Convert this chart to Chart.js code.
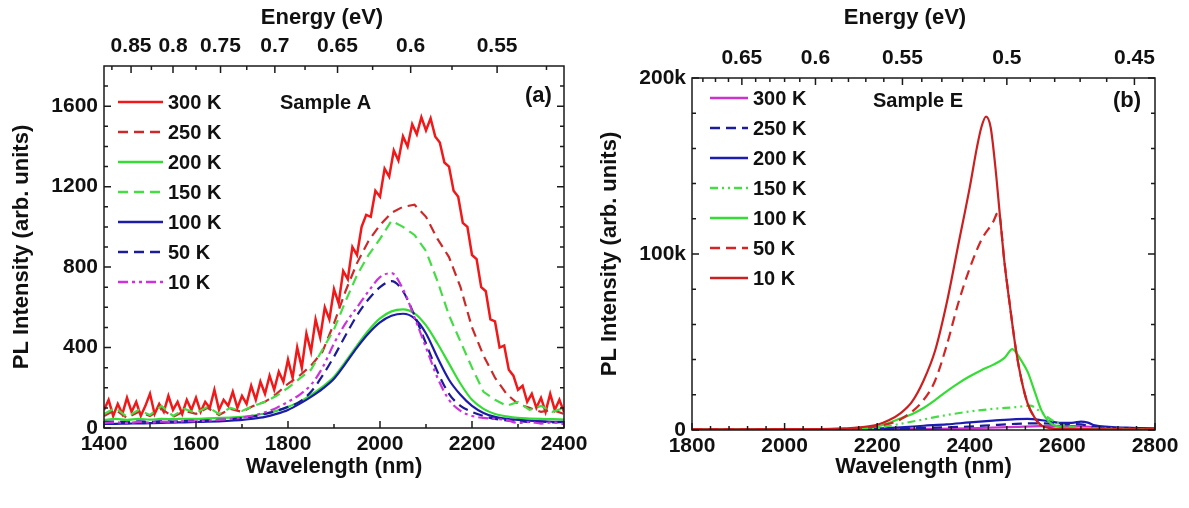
<!DOCTYPE html>
<html>
<head>
<meta charset="utf-8">
<script src="https://cdn.jsdelivr.net/npm/chart.js@4.4.1/dist/chart.umd.min.js"></script>
<style>
  html, body { margin: 0; padding: 0; background: #fff; }
  #wrap { position: relative; width: 1189px; height: 508px; }
  canvas { position: absolute; top: 0; }
  #chartA { left: 0; }
  #chartB { left: 595px; }
</style>
</head>
<body>
<div id="wrap">
  <canvas id="chartA" width="595" height="508"></canvas>
  <canvas id="chartB" width="594" height="508"></canvas>
</div>
<script>
const FONT = 'Arial, "Liberation Sans", sans-serif';

// ---------- panel (a): Sample A ----------
const labelsA = ['300 K', '250 K', '200 K', '150 K', '100 K', '50 K', '10 K'];
// 300 K sampled every 10 nm, the rest every 25 nm
const wlA300 = Array.from({ length: 101 }, (_, i) => 1400 + i * 10);
const wlA = Array.from({ length: 41 }, (_, i) => 1400 + i * 25);

const pl300A = [
  90, 140, 60, 120, 70, 150, 80, 130, 60, 110,
  170, 70, 120, 80, 160, 90, 130, 70, 140, 90,
  150, 80, 130, 100, 190, 90, 140, 110, 180, 100,
  160, 120, 210, 140, 230, 170, 260, 190, 280, 230,
  340, 250, 400, 300, 470, 380, 540, 450, 600, 540,
  690, 620, 780, 740, 900, 860, 1000, 1060, 1050, 1180,
  1150, 1290, 1250, 1380, 1330, 1450, 1400, 1510, 1460, 1545,
  1480, 1540, 1450, 1420, 1320, 1300, 1180, 1150, 1020, 1000,
  860, 840, 700, 680, 540, 530, 400, 410, 290, 260,
  190, 210, 130, 170, 100, 150, 80, 170, 90, 140, 80
];
const pl250A = [60, 90, 50, 80, 60, 95, 55, 85, 70, 100, 65, 95, 80, 110, 130, 170, 220, 260, 310, 380,
  520, 680, 820, 930, 1010, 1070, 1100, 1110, 1050, 940, 850, 700, 500, 360, 250, 170, 120, 100, 80, 90, 70];
const pl200A = [40, 45, 40, 45, 42, 45, 44, 46, 45, 48, 50, 52, 55, 62, 72, 85, 105, 130, 165, 205,
  255, 330, 410, 485, 545, 580, 590, 570, 510, 420, 320, 220, 140, 95, 70, 58, 50, 47, 45, 44, 42];
const pl150A = [70, 100, 55, 90, 65, 110, 60, 95, 75, 105, 70, 100, 85, 110, 130, 160, 200, 245, 290, 390,
  490, 630, 760, 860, 940, 1030, 1000, 960, 880, 730, 560, 430, 300, 180, 140, 110, 130, 90, 110, 80, 100];
const pl100A = [20, 21, 22, 23, 24, 25, 27, 28, 30, 31, 33, 36, 40, 46, 55, 70, 90, 120, 155, 195,
  245, 320, 400, 470, 525, 558, 568, 545, 470, 350, 240, 165, 110, 75, 55, 45, 40, 36, 33, 31, 30];
const pl50A = [30, 32, 28, 33, 30, 34, 32, 36, 35, 38, 40, 44, 50, 58, 70, 85, 105, 130, 180, 260,
  355, 460, 560, 640, 700, 730, 680, 560, 420, 280, 170, 110, 80, 60, 45, 38, 35, 30, 32, 28, 30];
const pl10A = [25, 28, 24, 30, 27, 32, 30, 34, 33, 37, 40, 45, 52, 62, 78, 100, 130, 165, 215, 300,
  420, 520, 600, 680, 750, 770, 690, 550, 400, 250, 140, 85, 60, 50, 45, 40, 25, 30, 22, 28, 20];

const wlTicksA = [1400, 1600, 1800, 2000, 2200, 2400];
const yTicksA = [0, 400, 800, 1200, 1600];
const eTicksA = [0.85, 0.8, 0.75, 0.7, 0.65, 0.6, 0.55];

// ---------- panel (b): Sample E ----------
const labelsB = ['300 K', '250 K', '200 K', '150 K', '100 K', '50 K', '10 K'];
const wlB300 = [1800, 2200, 2300, 2400, 2500, 2550, 2600, 2650, 2700, 2750, 2800];
const pl300B = [200, 300, 600, 1000, 1800, 2200, 2300, 2000, 1200, 1000, 900];
const wlB250 = [1800, 2200, 2300, 2400, 2450, 2500, 2550, 2600, 2640, 2660, 2700, 2750, 2800];
const pl250B = [100, 500, 1200, 2000, 2800, 3500, 3800, 3400, 3200, 2000, 1200, 800, 500];
const wlB200 = [1800, 2150, 2200, 2250, 2300, 2350, 2400, 2450, 2500, 2525, 2550, 2575, 2600, 2625, 2640, 2655, 2670, 2700, 2750, 2800];
const pl200B = [100, 300, 800, 1500, 2400, 3200, 4300, 5300, 6200, 6300, 5800, 4800, 4000, 4200, 4800, 4200, 2600, 1800, 1200, 800];
const wlB150 = [1800, 2100, 2200, 2250, 2300, 2350, 2400, 2450, 2500, 2530, 2550, 2575, 2600, 2625, 2700, 2800];
const pl150B = [150, 250, 1200, 3500, 6000, 8500, 10500, 12000, 13000, 13800, 11000, 6000, 3000, 1500, 800, 500];
const wlB100 = [1800, 2100, 2150, 2200, 2225, 2250, 2275, 2300, 2325, 2350, 2375, 2400, 2425, 2450, 2475, 2492, 2500, 2510, 2525, 2540, 2555, 2570, 2580, 2600, 2650, 2700, 2800];
const pl100B = [200, 300, 600, 2000, 4000, 6500, 9000, 12500, 17000, 22000, 26500, 30500, 34000, 37000, 41000, 46000, 44000, 40000, 33000, 22000, 11000, 5000, 3000, 1500, 800, 500, 400];
const wlB50 = [1800, 2000, 2100, 2150, 2200, 2250, 2300, 2325, 2350, 2375, 2400, 2425, 2450, 2462, 2475, 2487, 2500, 2512, 2525, 2540, 2555, 2575, 2600, 2800];
const pl50B = [300, 350, 500, 900, 2200, 6000, 17000, 28000, 48000, 72000, 92000, 108000, 118000, 124000, 95000, 70000, 45000, 28000, 15000, 7000, 2500, 1000, 500, 300];
const wlB10 = [1800, 1900, 2000, 2050, 2100, 2150, 2200, 2225, 2250, 2275, 2300, 2325, 2350, 2375, 2400, 2415, 2425, 2435, 2445, 2455, 2465, 2475, 2487, 2500, 2512, 2525, 2540, 2555, 2575, 2600, 2700, 2800];
const pl10B = [400, 400, 450, 500, 700, 1200, 3000, 5500, 9500, 16000, 28000, 45000, 72000, 105000, 138000, 160000, 172000, 178000, 172000, 150000, 122000, 95000, 70000, 45000, 28000, 15000, 7000, 2500, 1000, 600, 400, 300];

const wlTicksB = [1800, 2000, 2200, 2400, 2600, 2800];
const yTicksB = [0, 100000, 200000];
const yLabelsB = ['0', '100k', '200k'];
const eTicksB = [0.65, 0.6, 0.55, 0.5, 0.45];

const toPts = (xs, ys) => xs.map((x, i) => ({ x: x, y: ys[i] }));
const range = (a, b, step) => {
  const out = [];
  for (let v = a; v <= b + 1e-9; v += step) out.push(+v.toFixed(4));
  return out;
};

// frame, inward ticks, legend and texts
const decor = {
  id: 'decor',
  afterDraw(chart, args, o) {
    const { ctx, chartArea: a, scales } = chart;
    ctx.save();
    ctx.strokeStyle = '#1a1a1a';
    ctx.lineWidth = 1.5;
    ctx.setLineDash([]);
    ctx.strokeRect(a.left, a.top, a.width, a.height);

    const xTick = (vals, len, atTop) => vals.forEach(v => {
      const px = scales.x.getPixelForValue(v);
      if (px < a.left - 0.5 || px > a.right + 0.5) return;
      ctx.beginPath();
      if (atTop) { ctx.moveTo(px, a.top); ctx.lineTo(px, a.top + len); }
      else { ctx.moveTo(px, a.bottom); ctx.lineTo(px, a.bottom - len); }
      ctx.stroke();
    });
    const yTick = (vals, len) => vals.forEach(v => {
      const py = scales.y.getPixelForValue(v);
      ctx.beginPath();
      ctx.moveTo(a.left, py); ctx.lineTo(a.left + len, py);
      ctx.moveTo(a.right, py); ctx.lineTo(a.right - len, py);
      ctx.stroke();
    });
    xTick(o.xMajor, 7, false);
    xTick(o.xMinor, 4, false);
    xTick(o.eMajor.map(e => 1240 / e), 7, true);
    xTick(o.eMinor.map(e => 1240 / e), 4, true);
    yTick(o.yMajor, 7);
    yTick(o.yMinor, 4);

    // legend
    const lg = o.legend;
    ctx.font = 'bold 20px ' + FONT;
    ctx.textBaseline = 'middle';
    ctx.textAlign = 'left';
    chart.data.datasets.forEach((ds, i) => {
      const y = lg.y + i * lg.dy;
      ctx.strokeStyle = ds.borderColor;
      ctx.lineWidth = 2.5;
      ctx.setLineDash(ds.borderDash || []);
      ctx.beginPath();
      ctx.moveTo(lg.x, y);
      ctx.lineTo(lg.x + lg.len, y);
      ctx.stroke();
      ctx.setLineDash([]);
      ctx.fillStyle = '#111';
      ctx.fillText(ds.label, lg.x + lg.len + 5, y + 1);
    });

    // notes
    ctx.fillStyle = '#111';
    o.notes.forEach(n => {
      ctx.font = 'bold ' + n.size + 'px ' + FONT;
      ctx.textAlign = 'left';
      ctx.fillText(n.text, n.x, n.y);
    });

    // axis titles
    ctx.font = 'bold 22px ' + FONT;
    ctx.textAlign = 'center';
    ctx.fillText('Wavelength (nm)', (a.left + a.right) / 2, o.bottomTitleY);
    ctx.fillText('Energy (eV)', o.topTitleX, 18);
    ctx.save();
    ctx.translate(o.leftTitleX, (a.top + a.bottom) / 2);
    ctx.rotate(-Math.PI / 2);
    ctx.fillText('PL Intensity (arb. units)', 0, 0);
    ctx.restore();
    ctx.restore();
  }
};

function lineSet(label, pts, color, dash, width, smooth, order) {
  return {
    label: label,
    data: pts,
    borderColor: color,
    borderDash: dash,
    borderWidth: width,
    pointRadius: 0,
    fill: false,
    tension: 0,
    cubicInterpolationMode: smooth ? 'monotone' : 'default',
    order: order
  };
}

function makeOptions(cfg) {
  const tickFont = { family: FONT, size: 21, weight: 'bold' };
  return {
    responsive: false,
    animation: false,
    events: [],
    layout: { padding: { left: 0, right: cfg.padRight, top: 0, bottom: 0 } },
    plugins: { legend: { display: false }, tooltip: { enabled: false }, decor: cfg.decor },
    scales: {
      x: {
        type: 'linear', position: 'bottom', min: cfg.xMin, max: cfg.xMax,
        afterBuildTicks: s => { s.ticks = cfg.xTicks.map(v => ({ value: v })); },
        afterFit: s => { s.height = cfg.bottomH; },
        grid: { display: false, drawTicks: false },
        border: { display: false },
        ticks: { color: '#111', font: tickFont, padding: 4, maxRotation: 0, autoSkip: false,
          callback: v => String(v) }
      },
      xTop: {
        type: 'linear', position: 'top', min: cfg.xMin, max: cfg.xMax,
        afterBuildTicks: s => { s.ticks = cfg.eTicks.map(e => ({ value: 1240 / e })); },
        afterFit: s => { s.height = cfg.topH; },
        grid: { display: false, drawTicks: false },
        border: { display: false },
        ticks: { color: '#111', font: tickFont, padding: 7, maxRotation: 0, autoSkip: false,
          callback: (v, i) => String(cfg.eTicks[i]) }
      },
      y: {
        type: 'linear', position: 'left', min: 0, max: cfg.yMax,
        afterBuildTicks: s => { s.ticks = cfg.yTicks.map(v => ({ value: v })); },
        afterFit: s => { s.width = cfg.leftW; },
        grid: { display: false, drawTicks: false },
        border: { display: false },
        ticks: { color: '#111', font: tickFont, padding: 6, autoSkip: false,
          callback: (v, i) => cfg.yLabels[i] }
      }
    }
  };
}

// ----- chart (a)
const colA = ['#f01818', '#cc2a2a', '#33dd33', '#44dd44', '#1c1ca8', '#1c1c9a', '#cc33dd'];
const dashA = [[], [10, 6], [], [10, 6], [], [10, 6], [10, 4, 3, 4, 3, 4]];
const seriesA = [pl300A, pl250A, pl200A, pl150A, pl100A, pl50A, pl10A];
const datasetsA = seriesA.map((ys, i) => lineSet(
  labelsA[i], toPts(i === 0 ? wlA300 : wlA, ys), colA[i], dashA[i],
  i === 0 ? 2.5 : 2.2, i === 2 || i === 4 || i === 5 || i === 6, 7 - i));

new Chart(document.getElementById('chartA'), {
  type: 'line',
  data: { datasets: datasetsA },
  options: makeOptions({
    xMin: 1400, xMax: 2400, yMax: 1800, padRight: 31,
    leftW: 104, bottomH: 80, topH: 66,
    xTicks: wlTicksA, eTicks: eTicksA, yTicks: yTicksA, yLabels: yTicksA.map(String),
    decor: {
      xMajor: wlTicksA, xMinor: range(1500, 2300, 200),
      eMajor: eTicksA, eMinor: range(0.525, 0.875, 0.05),
      yMajor: yTicksA, yMinor: range(100, 1700, 100).filter(v => v % 400 !== 0),
      legend: { x: 118, y: 102, dy: 30, len: 45 },
      notes: [
        { text: 'Sample A', x: 280, y: 103, size: 20 },
        { text: '(a)', x: 525, y: 96, size: 22 }
      ],
      bottomTitleY: 467, topTitleX: 322, leftTitleX: 22
    }
  }),
  plugins: [decor]
});

// ----- chart (b)
const colB = ['#cc33cc', '#1c1c9a', '#1c1cb0', '#44dd44', '#33dd33', '#d42424', '#cc2020'];
const dashB = [[], [10, 6], [], [8, 4, 2, 4, 2, 4], [], [10, 6], []];
const wlB = [wlB300, wlB250, wlB200, wlB150, wlB100, wlB50, wlB10];
const seriesB = [pl300B, pl250B, pl200B, pl150B, pl100B, pl50B, pl10B];
const datasetsB = seriesB.map((ys, i) => lineSet(
  labelsB[i], toPts(wlB[i], ys), colB[i], dashB[i], 2.2, true, 7 - i));

new Chart(document.getElementById('chartB'), {
  type: 'line',
  data: { datasets: datasetsB },
  options: makeOptions({
    xMin: 1800, xMax: 2800, yMax: 200000, padRight: 34,
    leftW: 97, bottomH: 78, topH: 78,
    xTicks: wlTicksB, eTicks: eTicksB, yTicks: yTicksB, yLabels: yLabelsB,
    decor: {
      xMajor: wlTicksB, xMinor: range(1840, 2760, 40).filter(v => v % 200 !== 0),
      eMajor: eTicksB, eMinor: range(0.44, 0.68, 0.01).filter(e => Math.round(e * 100) % 5 !== 0),
      yMajor: yTicksB, yMinor: range(20000, 180000, 20000).filter(v => v !== 100000),
      legend: { x: 115, y: 98, dy: 30, len: 38 },
      notes: [
        { text: 'Sample E', x: 278, y: 101, size: 20 },
        { text: '(b)', x: 518, y: 101, size: 22 }
      ],
      bottomTitleY: 467, topTitleX: 310, leftTitleX: 15
    }
  }),
  plugins: [decor]
});
</script>
</body>
</html>
